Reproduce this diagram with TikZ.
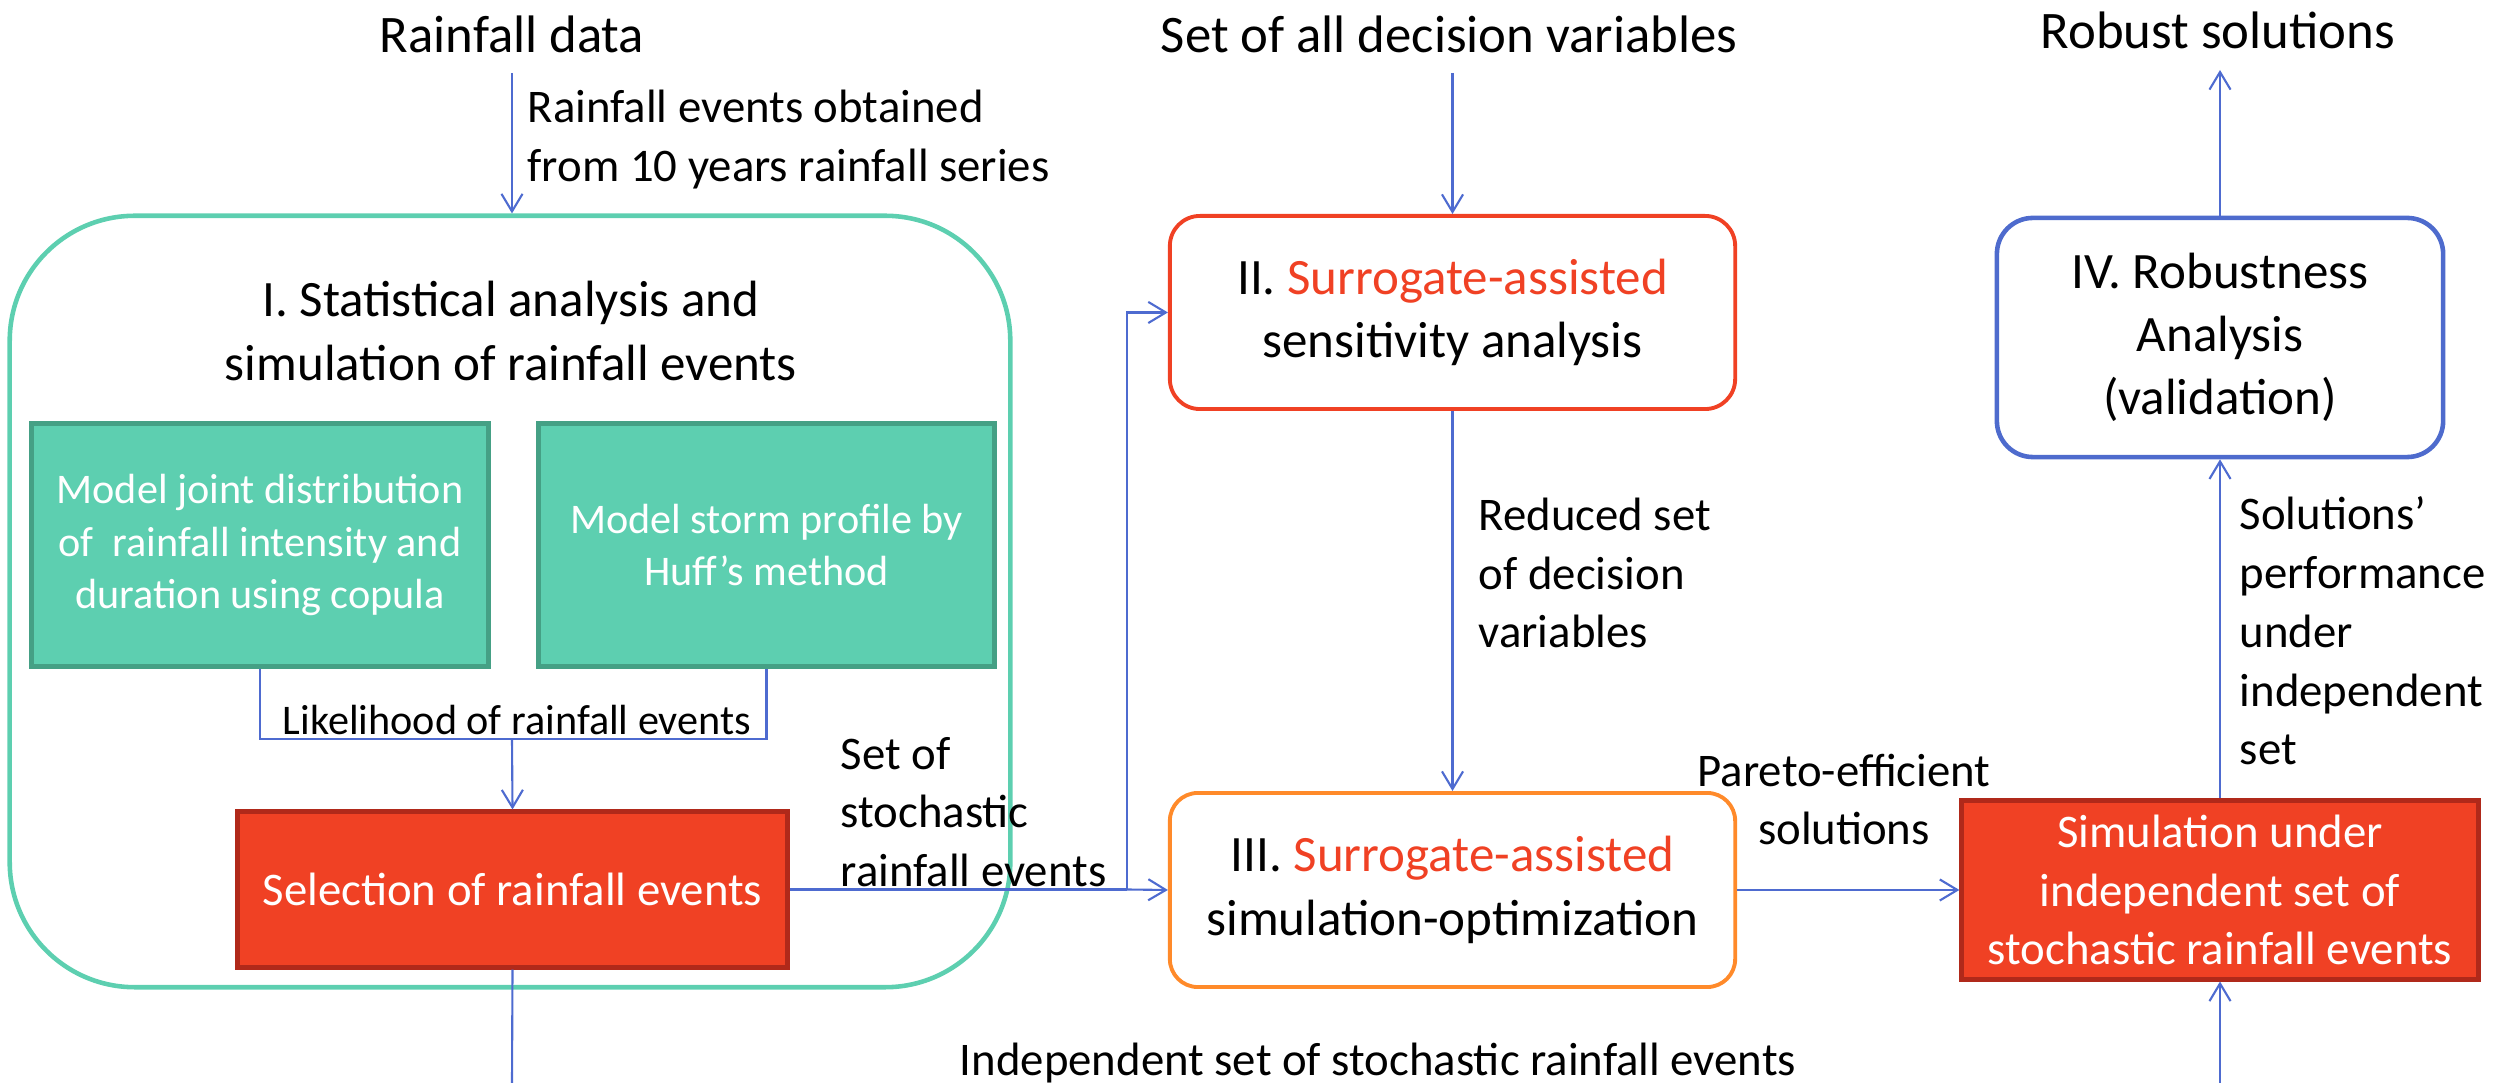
\documentclass[tikz,border=0pt]{standalone}
\usepackage{fontspec}
\setmainfont{Carlito}
\usetikzlibrary{arrows.meta}

\definecolor{flowblue}{HTML}{4E6BD0}
\definecolor{tealfill}{HTML}{5DCFB0}
\definecolor{tealedge}{HTML}{45A085}
\definecolor{redfill}{HTML}{F04124}
\definecolor{rededge}{HTML}{B0291A}
\definecolor{orangeedge}{HTML}{FF8A2A}
\definecolor{blueedge}{HTML}{4E6BCD}

\newcommand\hdsize{\fontsize{15pt}{18pt}\selectfont}
\newcommand\bxsize{\fontsize{14.5pt}{18pt}\selectfont}
\newcommand\lbsize{\fontsize{13.3pt}{16.7pt}\selectfont}
\newcommand\tlsize{\fontsize{12pt}{14.9pt}\selectfont}
\newcommand\sur{\textcolor{redfill}{Surrogate-assisted}}

\begin{document}
\begin{tikzpicture}[x=0.01cm,y=-0.01cm,
  flow/.style={draw=flowblue,line width=0.6pt},
  arr/.style={flow,-{Straight Barb[length=5pt,width=6pt]}},
  heading/.style={inner sep=0pt,font=\hdsize},
  lbl/.style={inner sep=0pt,font=\lbsize,align=left,anchor=west},
  ctrlbl/.style={inner sep=0pt,font=\lbsize,align=center},
  statbox/.style={draw=tealfill,line width=1.3pt,rounded corners=1.25cm},
  tealbox/.style={draw=tealedge,fill=tealfill,line width=1.4pt,text=white,
    font=\tlsize,align=center,inner sep=0pt},
  redbox/.style={draw=rededge,fill=redfill,line width=1.4pt,text=white,
    font=\lbsize,align=center,inner sep=0pt},
  stagebox/.style={fill=white,line width=1.1pt,font=\bxsize,align=center,inner sep=0pt}
]
\useasboundingbox (0,0) rectangle (2506,1083);

% headings at the top
\node[heading] (rdata) at (512,34) {Rainfall data};
\node[heading] (decvars) at (1449,34) {Set of all decision variables};
\node[heading] (robust) at (2218,30) {Robust solutions};

% stage I: statistical analysis and simulation
\node[statbox,minimum width=10cm,minimum height=7.71cm] (stat) at (510,601.5) {};
\node[inner sep=0pt,font=\bxsize,align=center] (stattitle) at (511,331)
  {I. Statistical analysis and\\simulation of rainfall events};
\node[tealbox,minimum width=4.56cm,minimum height=2.42cm] (joint) at (260,545)
  {Model joint distribution\\of~ rainfall intensity and\\duration using copula};
\node[tealbox,minimum width=4.55cm,minimum height=2.42cm] (huff) at (766.5,545)
  {Model storm profile by\\Huff’s method};
\node[redbox,minimum width=5.49cm,minimum height=1.55cm] (sel) at (512.5,889.5)
  {Selection of rainfall events};

% stages II, III, IV and the validation run
\node[stagebox,draw=redfill,rounded corners=0.3cm,minimum width=5.65cm,minimum height=1.93cm]
  (sa) at (1452.5,312.5) {II. \sur\\sensitivity analysis};
\node[stagebox,draw=orangeedge,rounded corners=0.28cm,minimum width=5.65cm,minimum height=1.94cm]
  (opt) at (1452.5,890) {III. \sur\\simulation-optimization};
\node[redbox,minimum width=5.16cm,minimum height=1.78cm] (sim) at (2220,890)
  {Simulation under\\independent set of\\stochastic rainfall events};
\node[stagebox,draw=blueedge,line width=1.3pt,rounded corners=0.36cm,minimum width=4.46cm,minimum height=2.39cm]
  (rob) at (2220,337.5) {IV. Robustness\\Analysis\\(validation)};

% free ends and junctions
\coordinate (rdout) at (512,73);
\coordinate (dvout) at (1452.5,73);
\coordinate (robin) at (2220,70);
\coordinate (lk) at (512,739);
\coordinate (split) at (1127,889.5);
\coordinate (selout) at (512,1083);
\coordinate (simin) at (2220,1083);

% connectors
\draw[arr] (rdout) -- (stat.north -| rdout);
\draw[flow] (joint.south) |- (lk) -| (huff.south);
\draw[arr] (lk) -- (sel.north);
\draw[flow] (sel.south) -- (selout);
\draw[flow] (sel.east) -- (split);
\draw[arr] (split) -- (opt.west);
\draw[arr] (split) |- (sa.west);
\draw[arr] (dvout) -- (sa.north);
\draw[arr] (sa.south) -- (opt.north);
\draw[arr] (opt.east) -- (sim.west);
\draw[arr] (simin) -- (sim.south);
\draw[arr] (sim.north) -- (rob.south);
\draw[arr] (rob.north) -- (robin);

% connector labels
\node[lbl] (obtained) at (527,139.5) {Rainfall events obtained\\from 10 years rainfall series};
\node[inner sep=0pt,font=\tlsize] (likely) at (517,720) {Likelihood of rainfall events};
\node[lbl] (stoch) at (840,812) {Set of\\stochastic\\rainfall events};
\node[lbl] (reduced) at (1478,573) {Reduced set\\of decision\\variables};
\node[ctrlbl] (pareto) at (1844,799.5) {Pareto-efficient\\solutions};
\node[lbl] (perf) at (2239,631) {Solutions’\\performance\\under\\independent\\set};
\node[inner sep=0pt,font=\lbsize] (indep) at (1378,1063) {Independent set of stochastic rainfall events};
\end{tikzpicture}
\end{document}
